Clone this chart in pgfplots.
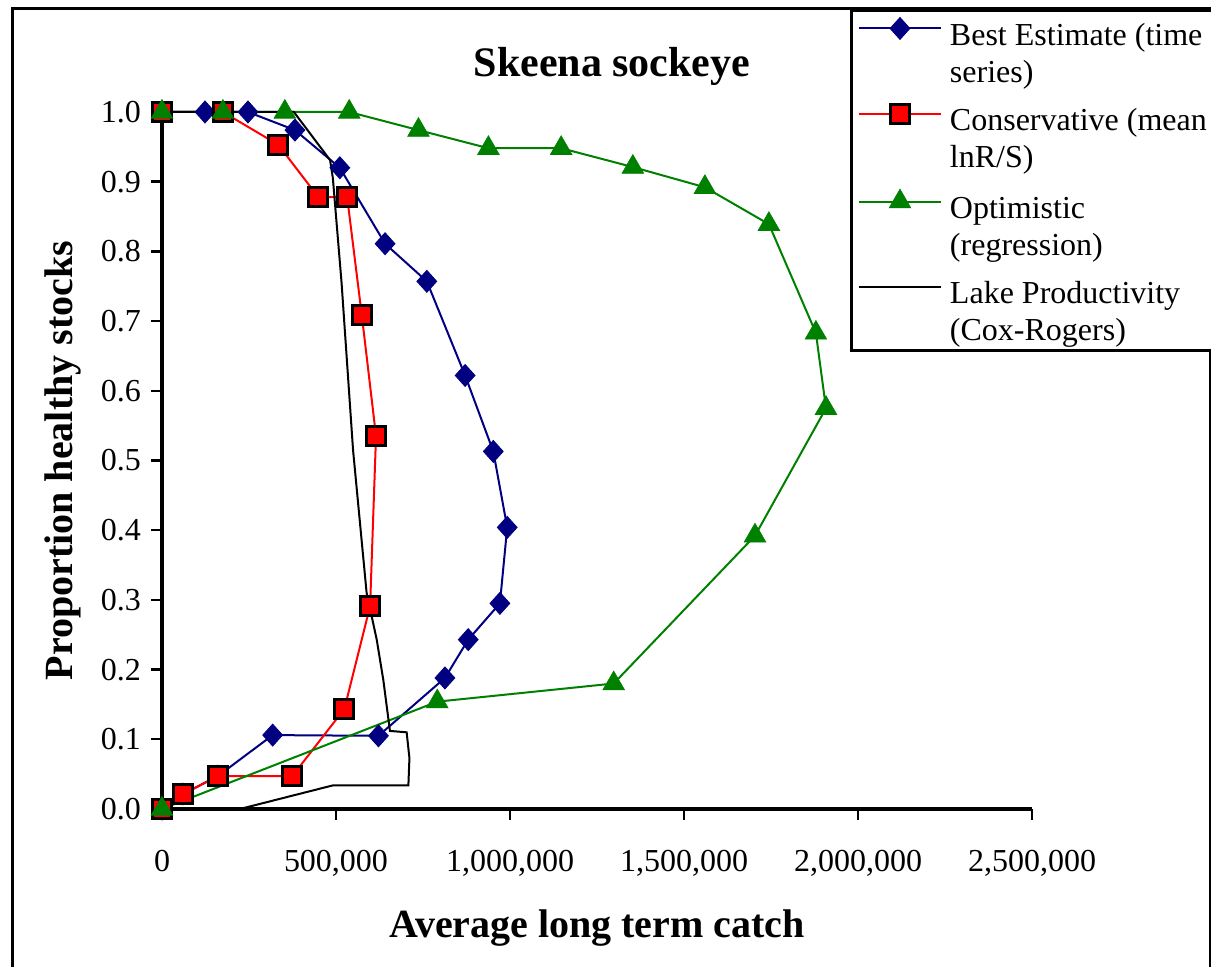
\documentclass[border=0pt]{standalone}
\usepackage{fontspec}
\setmainfont{Liberation Serif}
\usepackage{pgfplots}
\pgfplotsset{compat=1.18}

\definecolor{navy}{RGB}{0,0,128}
\definecolor{xlgreen}{RGB}{0,128,0}

\begin{document}
\begin{tikzpicture}
% page = 1211x967 px at 0.5pt per px
\path[use as bounding box] (0pt,0pt) rectangle (605.5pt,483.5pt);
\draw[line width=1.5pt] (6pt,-2pt) -- (6pt,479pt) -- (605pt,479pt) -- (605pt,-2pt);

\node[font=\fontsize{21}{25}\selectfont\bfseries, anchor=base] at (306pt,445pt) {Skeena sockeye};

\begin{axis}[
    at={(81pt,79pt)}, anchor=south west,
    scale only axis, width=435pt, height=348.5pt,
    xmin=0, xmax=2500000, ymin=0, ymax=1,
    clip=false,
    axis x line=bottom, axis y line=left,
    axis line style={-, line width=1.6pt},
    tick align=outside, major tick length=5.5pt,
    tick style={line width=1.2pt, black},
    xtick={0,500000,1000000,1500000,2000000,2500000},
    ytick={0,0.1,0.2,0.3,0.4,0.5,0.6,0.7,0.8,0.9,1.0},
    scaled x ticks=false,
    /pgf/number format/assume math mode=true,
    tick label style={font=\fontsize{16}{19}\selectfont},
    xticklabel style={anchor=base, yshift=-26pt, /pgf/number format/.cd, fixed, 1000 sep={,}},
    yticklabel style={xshift=-1.5pt, /pgf/number format/.cd, fixed, fixed zerofill, precision=1},
    every axis x label/.style={at={([yshift=-64.5pt]axis description cs:0.5,0)}, anchor=base,
        font=\fontsize{20}{24}\selectfont\bfseries},
    every axis y label/.style={at={([xshift=-45pt]axis description cs:0,0.5)}, anchor=base, rotate=90,
        font=\fontsize{20}{24}\selectfont\bfseries},
    xlabel={Average long term catch},
    ylabel={Proportion healthy stocks},
    legend style={at={(0.7908,1.1478)}, anchor=north west, draw=black, line width=1.5pt,
        font=\fontsize{16}{18.75}\selectfont, inner xsep=3.25pt, inner ysep=3.5pt,
        row sep=9.1pt, column sep=4pt, nodes={inner sep=0pt}},
    legend cell align=left,
    legend image code/.code={\draw[mark repeat=2,mark phase=2,#1]
        plot coordinates {(0pt,12pt)(20.5pt,12pt)(41pt,12pt)};},
]

% Best Estimate (time series)
\addplot[navy, line width=1pt, mark=diamond*, mark size=5.5pt,
    mark options={xscale=1.2, fill=navy, draw=navy, line width=0.4pt}]
coordinates {
(0,0) (60000,0.0215) (160000,0.047) (318000,0.106) (622000,0.105)
(813000,0.188) (880000,0.243) (971000,0.295) (992000,0.404) (952000,0.513)
(871000,0.622) (761000,0.757) (641000,0.811) (511000,0.920) (382000,0.974)
(247000,1.0) (123600,1.0) (0,1.0)
};
\addlegendentry{\begin{tabular}[b]{@{}l@{}}Best Estimate (time\\series)\end{tabular}}

% Conservative (mean lnR/S)
\addplot[red, line width=1pt, mark=square*, mark size=4.75pt,
    mark options={fill=red, draw=black, line width=1.5pt}]
coordinates {
(0,1.0) (175000,1.0) (334000,0.953) (449000,0.878) (532000,0.878)
(574000,0.709) (615000,0.535) (598000,0.291) (524000,0.1435) (374000,0.047)
(160000,0.047) (61000,0.0215) (0,0)
};
\addlegendentry{\begin{tabular}[b]{@{}l@{}}Conservative (mean\\lnR/S)\end{tabular}}

% Optimistic (regression)
\addplot[xlgreen, line width=1pt, mark=triangle*, mark size=6.25pt,
    mark options={fill=xlgreen, draw=xlgreen, line width=0.3pt}]
coordinates {
(0,1.0) (175000,1.0) (353000,1.0) (538000,1.0) (737000,0.974)
(938000,0.948) (1147000,0.948) (1353000,0.921) (1560000,0.892) (1744000,0.839)
(1879000,0.683) (1908000,0.575) (1704000,0.392) (1298000,0.180) (791000,0.154)
(0,0)
};
\addlegendentry{\begin{tabular}[b]{@{}l@{}}Optimistic\\(regression)\end{tabular}}

% Lake Productivity (Cox-Rogers)
\addplot[black, line width=1pt, mark=none]
coordinates {
(0,1.0) (379000,1.0) (483000,0.931) (491000,0.905) (516000,0.755)
(549000,0.515) (588000,0.310) (617000,0.243) (636000,0.185) (655000,0.112)
(703000,0.110) (711000,0.073) (708000,0.034) (492000,0.034) (224000,0.0)
(0,0)
};
\addlegendentry{\begin{tabular}[b]{@{}l@{}}Lake Productivity\\(Cox-Rogers)\end{tabular}}

\end{axis}
\end{tikzpicture}
\end{document}
